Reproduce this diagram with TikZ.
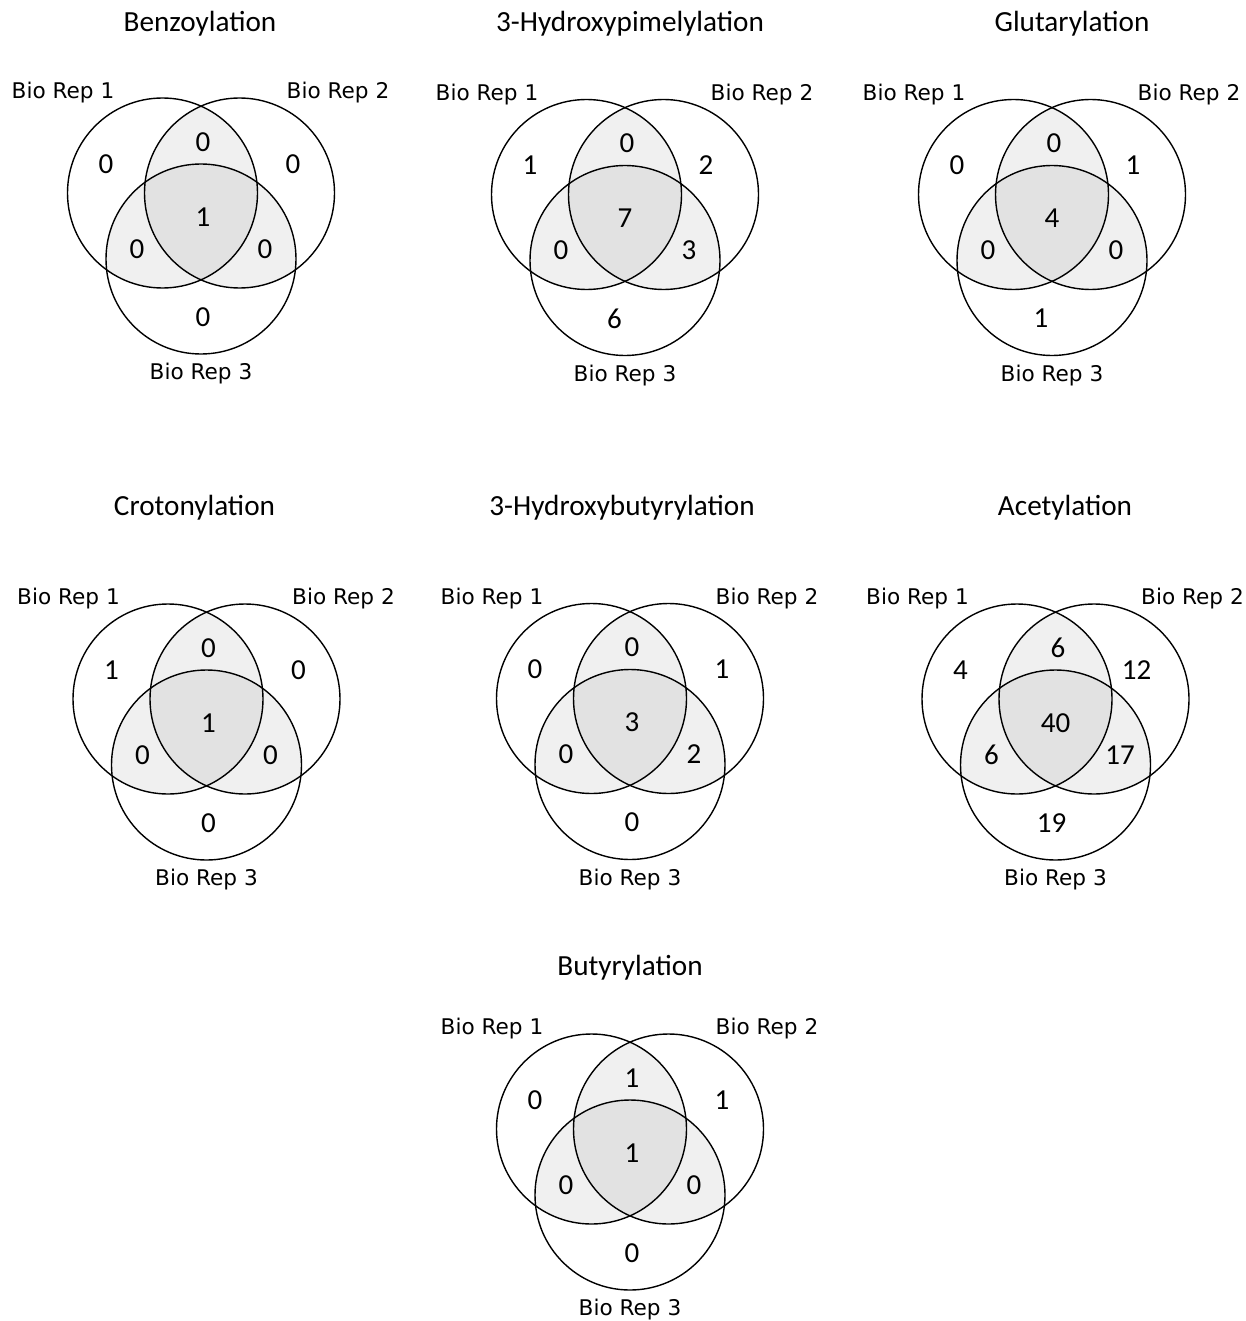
\documentclass[tikz,border=0pt]{standalone}
\usepackage{fontspec}
\newfontfamily\carlito{Carlito}
\newfontfamily\dejavu{DejaVu Sans}
\definecolor{pairgray}{HTML}{F0F0F0}
\definecolor{coregray}{HTML}{E2E2E2}

\begin{document}
\begin{tikzpicture}[
  x=0.5pt, y=-0.5pt,
  heading/.style={font=\carlito\fontsize{14.6}{17}\selectfont, inner sep=0pt},
  vnum/.style={font=\carlito\fontsize{14.5}{17}\selectfont, inner sep=0pt},
  replabel/.style={font=\dejavu\fontsize{10.8}{12}\selectfont, inner sep=0pt},
  ring/.style={draw=black, line width=0.7pt},
  venn/.pic={
    \begin{scope}
      \clip (-38.5,-22) circle[radius=95];
      \fill[pairgray] (38.5,-22) circle[radius=95];
      \fill[pairgray] (0,44) circle[radius=95];
    \end{scope}
    \begin{scope}
      \clip (38.5,-22) circle[radius=95];
      \fill[pairgray] (0,44) circle[radius=95];
    \end{scope}
    \begin{scope}
      \clip (-38.5,-22) circle[radius=95];
      \clip (38.5,-22) circle[radius=95];
      \fill[coregray] (0,44) circle[radius=95];
    \end{scope}
    \draw[ring] (-38.5,-22) circle[radius=95];
    \draw[ring] (38.5,-22) circle[radius=95];
    \draw[ring] (0,44) circle[radius=95];
    \node[replabel] (-rep1) at (-138,-122) {Bio Rep 1};
    \node[replabel] (-rep2) at (137,-122) {Bio Rep 2};
    \node[replabel] (-rep3) at (0,159) {Bio Rep 3};
  }
]
\useasboundingbox (0,0) rectangle (1246,1321);

% row 1
\begin{scope}[shift={(201,215)}]
  \pic (benz) {venn};
  \node[heading] (benz-title) at (-1,-191) {Benzoylation};
  \node[vnum] (benz-n1) at (-95,-51) {0};
  \node[vnum] (benz-n12) at (2,-73) {0};
  \node[vnum] (benz-n2) at (92,-51) {0};
  \node[vnum] (benz-n123) at (2,2) {1};
  \node[vnum] (benz-n13) at (-64,34) {0};
  \node[vnum] (benz-n23) at (64,34) {0};
  \node[vnum] (benz-n3) at (2,102) {0};
\end{scope}

\begin{scope}[shift={(625,216.5)}]
  \pic (hpim) {venn};
  \node[heading] (hpim-title) at (5,-192.5) {3-Hydroxypimelylation};
  \node[vnum] (hpim-n1) at (-95,-51) {1};
  \node[vnum] (hpim-n12) at (2,-73) {0};
  \node[vnum] (hpim-n2) at (81,-51) {2};
  \node[vnum] (hpim-n123) at (0,2) {7};
  \node[vnum] (hpim-n13) at (-64,34) {0};
  \node[vnum] (hpim-n23) at (64,34) {3};
  \node[vnum] (hpim-n3) at (-10.5,102) {6};
\end{scope}

\begin{scope}[shift={(1052,216.5)}]
  \pic (glut) {venn};
  \node[heading] (glut-title) at (20,-192.5) {Glutarylation};
  \node[vnum] (glut-n1) at (-95,-51) {0};
  \node[vnum] (glut-n12) at (2,-73) {0};
  \node[vnum] (glut-n2) at (81,-51) {1};
  \node[vnum] (glut-n123) at (0,2) {4};
  \node[vnum] (glut-n13) at (-64,34) {0};
  \node[vnum] (glut-n23) at (64,34) {0};
  \node[vnum] (glut-n3) at (-11,102) {1};
\end{scope}

% row 2
\begin{scope}[shift={(206.5,721)}]
  \pic (crot) {venn};
  \node[heading] (crot-title) at (-12,-213) {Crotonylation};
  \node[vnum] (crot-n1) at (-95,-51) {1};
  \node[vnum] (crot-n12) at (2,-73) {0};
  \node[vnum] (crot-n2) at (92,-51) {0};
  \node[vnum] (crot-n123) at (2,2) {1};
  \node[vnum] (crot-n13) at (-64,34) {0};
  \node[vnum] (crot-n23) at (64,34) {0};
  \node[vnum] (crot-n3) at (2,102) {0};
\end{scope}

\begin{scope}[shift={(630,720.5)}]
  \pic (hbut) {venn};
  \node[heading] (hbut-title) at (-8,-213) {3-Hydroxybutyrylation};
  \node[vnum] (hbut-n1) at (-95,-51) {0};
  \node[vnum] (hbut-n12) at (2,-73) {0};
  \node[vnum] (hbut-n2) at (92,-51) {1};
  \node[vnum] (hbut-n123) at (2,2) {3};
  \node[vnum] (hbut-n13) at (-64,34) {0};
  \node[vnum] (hbut-n23) at (64,34) {2};
  \node[vnum] (hbut-n3) at (2,102) {0};
\end{scope}

\begin{scope}[shift={(1055.5,721)}]
  \pic (acet) {venn};
  \node[heading] (acet-title) at (9.5,-213) {Acetylation};
  \node[vnum] (acet-n1) at (-95,-51) {4};
  \node[vnum] (acet-n12) at (2.5,-73) {6};
  \node[vnum] (acet-n2) at (81,-51) {12};
  \node[vnum] (acet-n123) at (0,2) {40};
  \node[vnum] (acet-n13) at (-64,34) {6};
  \node[vnum] (acet-n23) at (64.5,34) {17};
  \node[vnum] (acet-n3) at (-4,102) {19};
\end{scope}

% row 3
\begin{scope}[shift={(630,1151)}]
  \pic (buty) {venn};
  \node[heading] (buty-title) at (0,-183) {Butyrylation};
  \node[vnum] (buty-n1) at (-95,-51) {0};
  \node[vnum] (buty-n12) at (2,-73) {1};
  \node[vnum] (buty-n2) at (92,-51) {1};
  \node[vnum] (buty-n123) at (2,2) {1};
  \node[vnum] (buty-n13) at (-64,34) {0};
  \node[vnum] (buty-n23) at (64,34) {0};
  \node[vnum] (buty-n3) at (2,102) {0};
\end{scope}

\end{tikzpicture}
\end{document}
